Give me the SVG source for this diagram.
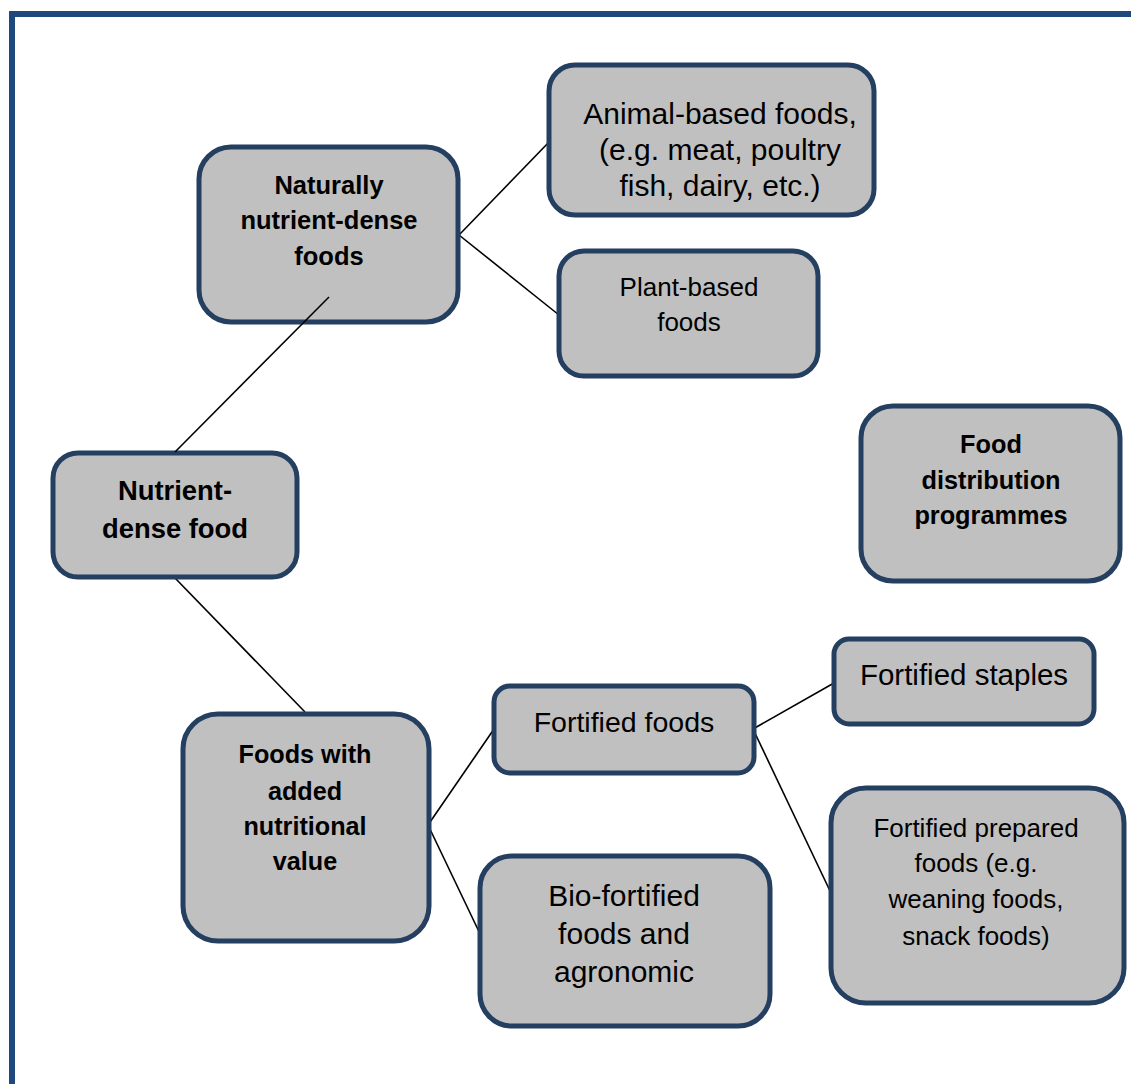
<svg xmlns="http://www.w3.org/2000/svg" width="1131" height="1084" viewBox="0 0 1131 1084">
<style>
.box{fill:#C0C0C0;stroke:#243F60;stroke-width:5}
.t{font-family:"Liberation Sans",Arial,sans-serif;fill:#000;text-anchor:middle}
.b{font-weight:bold}
.conn line{stroke:#000;stroke-width:1.6}
</style>
<rect width="1131" height="1084" fill="#FFFFFF"/>
<path d="M12 1084 V14 H1131" fill="none" stroke="#1F497D" stroke-width="6"/>
<g id="connectors" class="conn">
<line x1="459" y1="235" x2="551" y2="140"/>
<line x1="459" y1="235" x2="559" y2="315"/>
<line x1="175" y1="578" x2="305" y2="712"/>
<line x1="428" y1="825" x2="494" y2="729"/>
<line x1="428" y1="825" x2="483" y2="940"/>
<line x1="753" y1="729" x2="834" y2="683"/>
<line x1="753" y1="729" x2="831" y2="893"/>
</g>
<g id="n_natural">
<rect class="box" x="199" y="147" width="259" height="175" rx="32"/>
<text class="t b" font-size="25.5" x="329" y="194">Naturally</text>
<text class="t b" font-size="25.5" x="329" y="229">nutrient-dense</text>
<text class="t b" font-size="25.5" x="329" y="265">foods</text>
</g>
<g id="n_animal">
<rect class="box" x="549" y="65" width="325" height="150" rx="26"/>
<text class="t" font-size="30" x="720" y="124">Animal-based foods,</text>
<text class="t" font-size="30" x="720" y="160">(e.g. meat, poultry</text>
<text class="t" font-size="30" x="720" y="196">fish, dairy, etc.)</text>
</g>
<g id="n_plant">
<rect class="box" x="559" y="251" width="259" height="125" rx="25"/>
<text class="t" font-size="26" x="689" y="296">Plant-based</text>
<text class="t" font-size="26" x="689" y="331">foods</text>
</g>
<g id="n_distribution">
<rect class="box" x="861" y="406" width="259" height="175" rx="32"/>
<text class="t b" font-size="25.3" x="991" y="453">Food</text>
<text class="t b" font-size="25.3" x="991" y="489">distribution</text>
<text class="t b" font-size="25.3" x="991" y="524">programmes</text>
</g>
<g id="n_nutrient">
<rect class="box" x="53" y="453" width="244" height="124" rx="25"/>
<text class="t b" font-size="27.4" x="175" y="500">Nutrient-</text>
<text class="t b" font-size="27.4" x="175" y="538">dense food</text>
</g>
<line x1="329" y1="297" x2="175" y2="452" stroke="#000" stroke-width="1.6"/>
<g id="n_added">
<rect class="box" x="183" y="714" width="246" height="227" rx="35"/>
<text class="t b" font-size="25.2" x="305" y="763">Foods with</text>
<text class="t b" font-size="25.2" x="305" y="800">added</text>
<text class="t b" font-size="25.2" x="305" y="835">nutritional</text>
<text class="t b" font-size="25.2" x="305" y="870">value</text>
</g>
<g id="n_fortified">
<rect class="box" x="494" y="686" width="260" height="87" rx="16"/>
<text class="t" font-size="28.5" x="624" y="732">Fortified foods</text>
</g>
<g id="n_staples">
<rect class="box" x="834" y="639" width="260" height="85" rx="15"/>
<text class="t" font-size="29.5" x="964" y="685">Fortified staples</text>
</g>
<g id="n_bio">
<rect class="box" x="480" y="856" width="290" height="170" rx="32"/>
<text class="t" font-size="30" x="624" y="906">Bio-fortified</text>
<text class="t" font-size="30" x="624" y="944">foods and</text>
<text class="t" font-size="30" x="624" y="982">agronomic</text>
</g>
<g id="n_prepared">
<rect class="box" x="831" y="788" width="293" height="215" rx="35"/>
<text class="t" font-size="26" x="976" y="837">Fortified prepared</text>
<text class="t" font-size="26" x="976" y="872">foods (e.g.</text>
<text class="t" font-size="26" x="976" y="908">weaning foods,</text>
<text class="t" font-size="26" x="976" y="945">snack foods)</text>
</g>
</svg>
